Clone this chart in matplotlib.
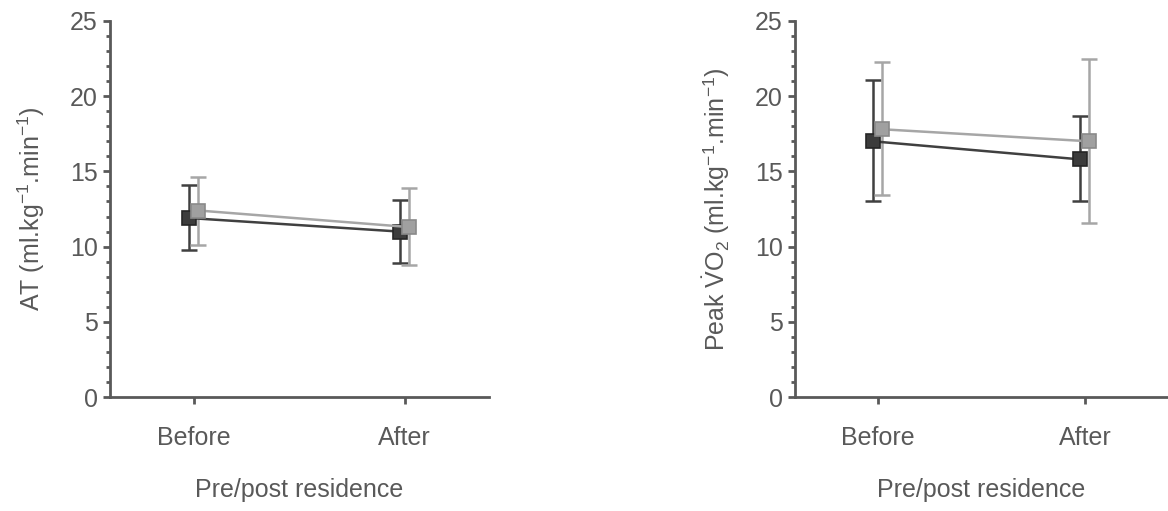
import numpy as np
import matplotlib
matplotlib.use("Agg")
import matplotlib.pyplot as plt

plt.rcParams["font.family"] = ["Liberation Sans", "DejaVu Sans"]
plt.rcParams["mathtext.fontset"] = "custom"
plt.rcParams["mathtext.rm"] = "Liberation Sans"
plt.rcParams["mathtext.it"] = "Liberation Sans:italic"

categories = ["Before", "After"]

# AT panel
at_dark = [11.9, 11.0]
at_dark_lo = [9.8, 8.9]
at_dark_hi = [14.1, 13.1]
at_light = [12.4, 11.3]
at_light_lo = [10.1, 8.8]
at_light_hi = [14.6, 13.9]

# Peak VO2 panel
vo2_dark = [17.0, 15.8]
vo2_dark_lo = [13.0, 13.0]
vo2_dark_hi = [21.1, 18.7]
vo2_light = [17.8, 17.0]
vo2_light_lo = [13.4, 11.6]
vo2_light_hi = [22.3, 22.5]

TXT = "#595959"
AX = "#595959"
FS = 18


def draw_panel(ax, dark, dlo, dhi, light, llo, lhi, ylabel):
    x = np.arange(len(categories))
    for vals, lo, hi, off, lc, fc, ec in [
        (dark, dlo, dhi, -0.025, "#404040", "#3c3c3c", "#262626"),
        (light, llo, lhi, 0.02, "#a6a6a6", "#a0a0a0", "#8a8a8a"),
    ]:
        vals = np.array(vals)
        yerr = [vals - np.array(lo), np.array(hi) - vals]
        ax.errorbar(x + off, vals, yerr=yerr, fmt="none", ecolor=lc,
                    elinewidth=1.8, capsize=5.5, capthick=1.8, zorder=2)
        ax.plot(x + off, vals, color=lc, lw=1.8, marker="s", ms=10,
                mfc=fc, mec=ec, mew=1.2, zorder=3)
    ax.set_xlim(-0.4, 1.4)
    ax.set_ylim(0, 25)
    ax.set_xticks(x)
    ax.set_xticklabels(categories)
    ax.set_yticks(np.arange(0, 26, 5))
    ax.set_yticks(np.arange(0, 26, 1), minor=True)
    for s in ["top", "right"]:
        ax.spines[s].set_visible(False)
    for s in ["left", "bottom"]:
        ax.spines[s].set_color(AX)
        ax.spines[s].set_linewidth(2)
    ax.tick_params(axis="both", which="major", colors=AX, labelcolor=TXT,
                   labelsize=FS, width=2, length=5)
    ax.tick_params(axis="x", which="major", pad=16)
    ax.tick_params(axis="y", which="major", pad=4)
    ax.tick_params(axis="y", which="minor", colors=AX, width=2, length=3)
    ax.set_xlabel("Pre/post residence", fontsize=FS, color=TXT, labelpad=20)
    ax.set_ylabel(ylabel, fontsize=FS, color=TXT, labelpad=16)


fig = plt.figure(figsize=(11.68, 5.11), dpi=100)
ax1 = fig.add_axes([0.0942, 0.223, 0.3245, 0.736])
ax2 = fig.add_axes([0.6807, 0.223, 0.3193, 0.736])

draw_panel(ax1, at_dark, at_dark_lo, at_dark_hi, at_light, at_light_lo, at_light_hi,
           r"AT (ml.kg$^{-1}$.min$^{-1}$)")
draw_panel(ax2, vo2_dark, vo2_dark_lo, vo2_dark_hi, vo2_light, vo2_light_lo, vo2_light_hi,
           r"Peak $\dot{\mathrm{V}}\mathrm{O}_2$ (ml.kg$^{-1}$.min$^{-1}$)")

fig.savefig("out.png", dpi=100)
